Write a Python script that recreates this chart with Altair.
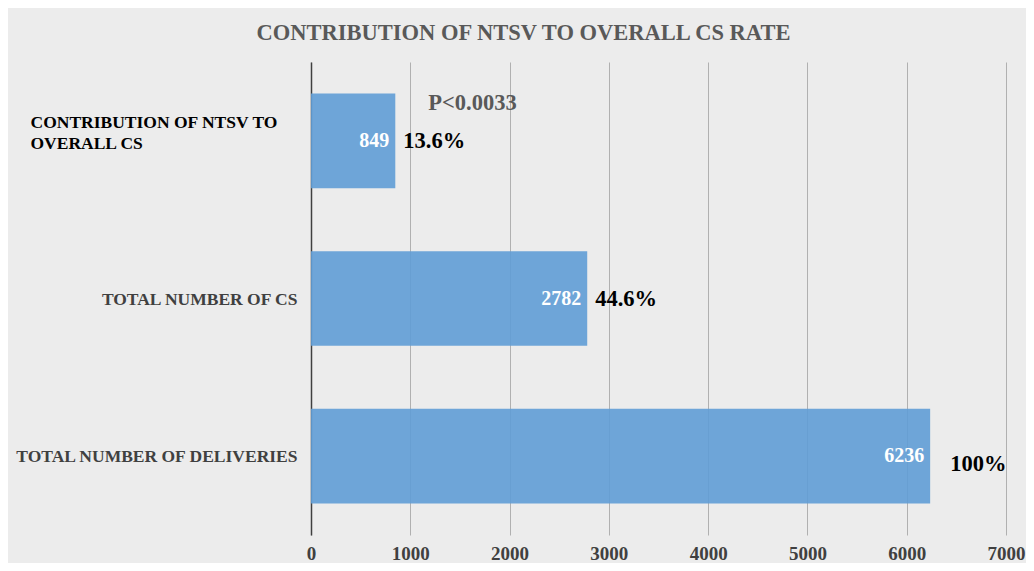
import altair as alt
import pandas as pd

categories = [
    "CONTRIBUTION OF NTSV TO OVERALL CS",
    "TOTAL NUMBER OF CS",
    "TOTAL NUMBER OF DELIVERIES",
]
counts = [849, 2782, 6236]
percents = ["13.6%", "44.6%", "100%"]
p_value_text = ["P<0.0033"]
x_ticks = [0, 1000, 2000, 3000, 4000, 5000, 6000, 7000]
title_text = "CONTRIBUTION  OF NTSV TO OVERALL CS RATE"

df = pd.DataFrame({
    "category": categories,
    "count": counts,
    "count_label": [str(c) for c in counts],
    "pct": percents,
})
pdf = pd.DataFrame({"category": [categories[0]], "count": [counts[0]], "label": p_value_text})

FONT = "Liberation Serif"
first = categories[0]
test_first = f"datum.value == '{first}'"

y_enc = alt.Y(
    "category:N",
    sort=categories,
    scale=alt.Scale(paddingInner=0.4, paddingOuter=0.2),
    axis=alt.Axis(
        title=None,
        ticks=False,
        grid=False,
        domainColor="#404040",
        domainWidth=1.5,
        labelFont=FONT,
        labelFontSize=17.5,
        labelFontWeight="bold",
        labelLimit=500,
        labelLineHeight=21,
        labelExpr=f"datum.value == '{first}' ? ['CONTRIBUTION OF NTSV TO', 'OVERALL CS'] : datum.label",
        labelAlign={"condition": {"test": test_first, "value": "left"}, "value": "right"},
        labelPadding={"condition": {"test": test_first, "value": 281}, "value": 14},
        labelOffset={"condition": {"test": test_first, "value": -18}, "value": 1},
        labelColor={"condition": {"test": test_first, "value": "#000000"}, "value": "#404040"},
    ),
)

x_enc = alt.X(
    "count:Q",
    scale=alt.Scale(domain=[0, 7000], nice=False),
    axis=alt.Axis(
        title=None,
        values=x_ticks,
        format="d",
        domain=False,
        ticks=False,
        grid=True,
        gridColor="#b0b0b0",
        gridWidth=1,
        labelFont=FONT,
        labelFontSize=19,
        labelFontWeight="bold",
        labelColor="#404040",
        labelPadding=9,
        labelFlush=False,
    ),
)

base = alt.Chart(df)

bars = base.mark_bar(color="#619dd6", opacity=0.9).encode(x=x_enc, y=y_enc)

inner = base.mark_text(
    align="right", baseline="middle", dx=-6, color="white",
    font=FONT, fontWeight="bold", fontSize=20,
).encode(x="count:Q", y=alt.Y("category:N", sort=categories), text="count_label:N")

pct_a = base.transform_filter(
    alt.datum.category != categories[-1]
).mark_text(
    align="left", baseline="middle", dx=8, color="black",
    font=FONT, fontWeight="bold", fontSize=22.5,
).encode(x="count:Q", y=alt.Y("category:N", sort=categories), text="pct:N")

pct_b = base.transform_filter(
    alt.datum.category == categories[-1]
).mark_text(
    align="left", baseline="middle", dx=20, dy=8, color="black",
    font=FONT, fontWeight="bold", fontSize=22.5,
).encode(x="count:Q", y=alt.Y("category:N", sort=categories), text="pct:N")

ptext = alt.Chart(pdf).mark_text(
    align="left", baseline="middle", dx=33, dy=-38, color="#595959",
    font=FONT, fontWeight="bold", fontSize=22.5,
).encode(x="count:Q", y=alt.Y("category:N", sort=categories), text="label:N")

chart = alt.layer(bars, inner, pct_a, pct_b, ptext).properties(
    width=695,
    height=473,
    autosize=alt.AutoSizeParams(type="none"),
    padding={"left": 303, "top": 54, "right": 20, "bottom": 28},
    background="#ececec",
    title=alt.TitleParams(
        text=title_text,
        font=FONT,
        fontSize=22.5,
        fontWeight="bold",
        color="#595959",
        anchor="middle",
        dx=-135,
        offset=18,
    ),
).configure_view(stroke=None)

chart.save("out.html", embed_options={"renderer": "svg", "actions": False})
